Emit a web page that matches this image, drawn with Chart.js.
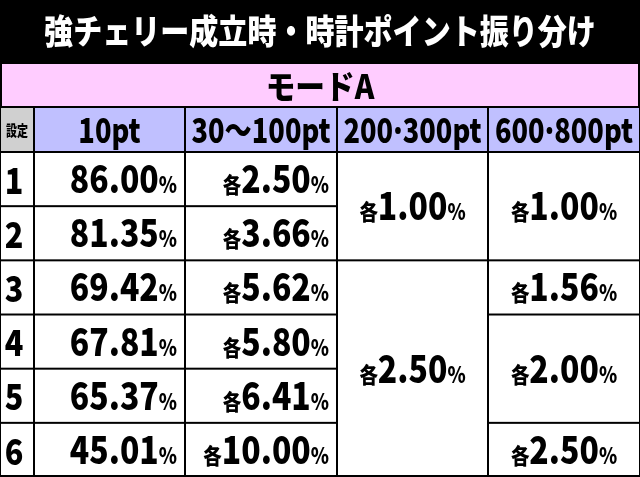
<!DOCTYPE html>
<html><head><meta charset="utf-8">
<script src="https://cdn.jsdelivr.net/npm/chart.js@4"></script>
<style>body{margin:0;background:#000}canvas{display:block}</style>
</head><body>
<canvas id="table" width="640" height="477"></canvas>
<script>
const title = "強チェリー成立時・時計ポイント振り分け";
const mode = "モードA";
const headers = ["設定", "10pt", "30～100pt", "200・300pt", "600・800pt"];
const settings = ["1", "2", "3", "4", "5", "6"];
const pt10 = ["86.00%", "81.35%", "69.42%", "67.81%", "65.37%", "45.01%"];
const pt30 = ["各2.50%", "各3.66%", "各5.62%", "各5.80%", "各6.41%", "各10.00%"];
// merged cells: [firstRow, lastRow, text]
const pt200 = [[0, 1, "各1.00%"], [2, 5, "各2.50%"]];
const pt600 = [[0, 1, "各1.00%"], [2, 2, "各1.56%"], [3, 4, "各2.00%"], [5, 5, "各2.50%"]];

const colEdges = [0, 34, 185, 337, 488, 640];
const FONT = '"Noto Sans CJK JP", sans-serif';
const W = "900 ";

function yRow(sy, r) { return sy.getPixelForValue(152 + r * 54.17); }

function drawValue(ctx, text, x, y, align) {
  let pre = "", suf = "", body = text;
  if (body.startsWith("各")) { pre = "各"; body = body.slice(1); }
  if (body.endsWith("%")) { suf = "%"; body = body.slice(0, -1); }
  const sx = 0.84;
  ctx.font = W + "22px " + FONT; const wp = ctx.measureText(pre).width * sx;
  const ws = ctx.measureText(suf).width * sx;
  ctx.font = W + "38px " + FONT; const wb = ctx.measureText(body).width * sx;
  const total = wp + wb + ws;
  let x0 = align === "right" ? x - total : x - total / 2;
  ctx.fillStyle = "#000"; ctx.textAlign = "left"; ctx.textBaseline = "alphabetic";
  const base = y + 14;
  const put = (t, size, px) => {
    ctx.save(); ctx.translate(px, base); ctx.scale(sx, 1);
    ctx.font = W + size + "px " + FONT; ctx.fillText(t, 0, 0); ctx.restore();
  };
  put(pre, 22, x0); put(body, 38, x0 + wp); put(suf, 22, x0 + wp + wb);
}

const tablePlugin = {
  id: 'tablePlugin',
  afterDraw(chart) {
    const ctx = chart.ctx, sx = chart.scales.x, sy = chart.scales.y;
    const X = i => sx.getPixelForValue(colEdges[i]);
    ctx.save();
    ctx.fillStyle = "#000"; ctx.fillRect(0, 0, 640, 477);
    // title
    ctx.fillStyle = "#fff"; ctx.textAlign = "center"; ctx.textBaseline = "middle";
    ctx.save(); ctx.translate(320, sy.getPixelForValue(31)); ctx.scale(0.88, 1.05);
    ctx.font = W + "33px " + FONT; ctx.fillText(title, 0, 0); ctx.restore();
    // mode row
    const m0 = sy.getPixelForValue(64), m1 = sy.getPixelForValue(106);
    ctx.fillStyle = "#ffccff"; ctx.fillRect(2, m0, 636, m1 - m0);
    ctx.fillStyle = "#000";
    ctx.save(); ctx.translate(320, (m0 + m1) / 2 + 1); ctx.scale(0.9, 1);
    ctx.font = W + "33px " + FONT; ctx.fillText(mode, 0, 0); ctx.restore();
    // header row
    const h0 = sy.getPixelForValue(108), h1 = sy.getPixelForValue(151);
    headers.forEach((h, i) => {
      ctx.fillStyle = i === 0 ? "#d0d0d0" : "#c0c0ff";
      ctx.fillRect(X(i) + 1, h0, X(i + 1) - X(i) - 2, h1 - h0);
      ctx.fillStyle = "#000";
      ctx.save(); ctx.translate((X(i) + X(i + 1)) / 2, (h0 + h1) / 2 + 1);
      let t = h;
      if (i === 0) { ctx.font = W + "13px " + FONT; ctx.scale(0.85, 1.1); }
      else {
        ctx.font = W + "34px " + FONT;
        const parts = h.split("・");
        if (parts.length === 2) {
          // draw with a narrow middle dot
          const a = ctx.measureText(parts[0]).width, b = ctx.measureText(parts[1]).width, d = 12;
          const tot = a + b + d, k = Math.min(0.8, 142 / tot);
          ctx.scale(k, 1); ctx.textAlign = "left";
          ctx.fillText(parts[0], -tot / 2, 0);
          ctx.beginPath(); ctx.arc(-tot / 2 + a + d / 2, 0, 3.5, 0, Math.PI * 2); ctx.fill();
          ctx.fillText(parts[1], -tot / 2 + a + d, 0);
          ctx.restore(); ctx.textAlign = "center";
          return;
        }
        ctx.scale(Math.min(0.8, 142 / ctx.measureText(h).width), 1);
      }
      ctx.fillText(t, 0, 0); ctx.restore();
    });
    // body cells
    const cell = (c, r0, r1, text, align) => {
      const y0 = yRow(sy, r0) + 1, y1 = yRow(sy, r1 + 1) - 1;
      ctx.fillStyle = "#fff";
      ctx.fillRect(X(c) + 1, y0, X(c + 1) - X(c) - 2, Math.min(y1, 475) - y0);
      const cy = (y0 + Math.min(y1, 477)) / 2;
      if (c === 0) {
        ctx.fillStyle = "#000"; ctx.textAlign = "center"; ctx.textBaseline = "middle";
        ctx.save(); ctx.translate((X(0) + X(1)) / 2 - 3, cy + 1); ctx.scale(0.85, 1);
        ctx.font = W + "36px " + FONT; ctx.fillText(text, 0, 0); ctx.restore();
      } else if (align === "right") {
        drawValue(ctx, text, X(c + 1) - 8, cy, "right");
      } else {
        drawValue(ctx, text, (X(c) + X(c + 1)) / 2, cy, "center");
      }
    };
    settings.forEach((s, r) => {
      cell(0, r, r, s);
      cell(1, r, r, pt10[r], "right");
      cell(2, r, r, pt30[r], "right");
    });
    pt200.forEach(([a, b, t]) => cell(3, a, b, t, "center"));
    pt600.forEach(([a, b, t]) => cell(4, a, b, t, "center"));
    ctx.restore();
  }
};

new Chart(document.getElementById('table'), {
  type: 'scatter',
  data: { datasets: [{ data: [] }] },
  options: {
    responsive: false,
    animation: false,
    devicePixelRatio: 1,
    layout: { padding: 0 },
    plugins: { legend: { display: false }, tooltip: { enabled: false } },
    scales: {
      x: { type: 'linear', min: 0, max: 640, display: false },
      y: { type: 'linear', min: 0, max: 477, reverse: true, display: false }
    }
  },
  plugins: [tablePlugin]
});
</script>
</body></html>
